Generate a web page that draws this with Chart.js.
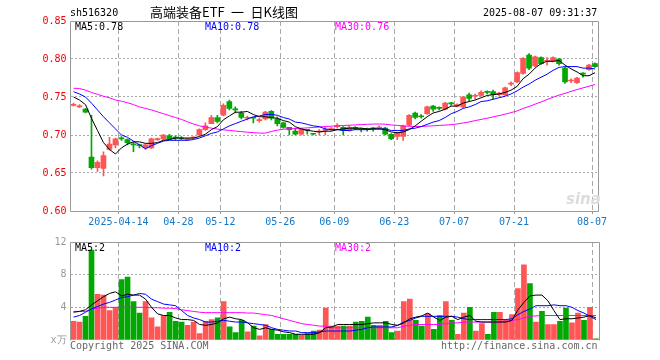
<!DOCTYPE html>
<html>
<head>
<meta charset="utf-8">
<script src="https://cdn.jsdelivr.net/npm/chart.js@4.4.1/dist/chart.umd.min.js"></script>
<style>
  body { margin: 0; background: #fff; }
  #wrap { position: relative; width: 660px; height: 360px; overflow: hidden; font-family: "DejaVu Sans Mono", monospace; font-size: 10px; }
  canvas { position: absolute; left: 0; }
  .t { position: absolute; white-space: nowrap; line-height: 10px; }
</style>
</head>
<body>
<div id="wrap">
  <canvas id="kline" width="660" height="232" style="top:0"></canvas>
  <canvas id="vol" width="660" height="128" style="top:232px"></canvas>

  <div class="t" style="left:70px;top:8px;color:#000">sh516320</div>
  <div class="t" style="left:150px;top:5px;font-family:'Noto Sans CJK SC';font-size:13px;line-height:13px;color:#000">高端装备ETF&ensp;一&ensp;日K线图</div>
  <div class="t" style="left:483px;top:8px;color:#000">2025-08-07 09:31:37</div>

  <div class="t" style="left:75px;top:22px;color:#000">MA5:0.78</div>
  <div class="t" style="left:205px;top:22px;color:#00f">MA10:0.78</div>
  <div class="t" style="left:335px;top:22px;color:#f0f">MA30:0.76</div>

  <div class="t" style="left:75px;top:243px;color:#000">MA5:2</div>
  <div class="t" style="left:205px;top:243px;color:#00f">MA10:2</div>
  <div class="t" style="left:335px;top:243px;color:#f0f">MA30:2</div>

  <div class="t" style="left:566px;top:192px;font-family:'DejaVu Sans';font-weight:bold;font-style:italic;font-size:15px;line-height:15px;color:#dcdcdc">sina</div>

  <div class="t" style="left:70px;top:341px;color:#666">Copyright 2025 SINA.COM</div>
  <div class="t" style="left:441px;top:341px;color:#666">http://finance.sina.com.cn</div>
</div>

<script>
// trading days shown on the chart
const dates = [
  '04-01','04-02','04-03','04-07','04-08','04-09','04-10','04-11',
  '04-14','04-15','04-16','04-17','04-18','04-21','04-22','04-23','04-24','04-25',
  '04-28','04-29','04-30','05-06','05-07','05-08','05-09',
  '05-12','05-13','05-14','05-15','05-16','05-19','05-20','05-21','05-22','05-23',
  '05-26','05-27','05-28','05-29','05-30','06-03','06-04','06-05','06-06',
  '06-09','06-10','06-11','06-12','06-13','06-16','06-17','06-18','06-19','06-20',
  '06-23','06-24','06-25','06-26','06-27','06-30','07-01','07-02','07-03','07-04',
  '07-07','07-08','07-09','07-10','07-11','07-14','07-15','07-16','07-17','07-18',
  '07-21','07-22','07-23','07-24','07-25','07-28','07-29','07-30','07-31','08-01',
  '08-04','08-05','08-06','08-07'
];

// x-axis labels
const tickDates  = ['04-14', '04-28', '05-12', '05-26', '06-09', '06-23', '07-07', '07-21', '08-07'];
const tickLabels = ['2025-04-14', '04-28', '05-12', '05-26', '06-09', '06-23', '07-07', '07-21', '08-07'];

const priceTicks = [0.60, 0.65, 0.70, 0.75, 0.80, 0.85];
const volTicks = [0, 4, 8, 12];

const opens = [
  0.739,0.737,0.734,0.671,0.657,0.656,0.681,0.687,0.696,0.694,
  0.688,0.687,0.683,0.683,0.694,0.695,0.699,0.697,0.696,0.694,
  0.696,0.700,0.707,0.715,0.723,0.726,0.744,0.734,0.729,0.722,
  0.723,0.719,0.721,0.731,0.721,0.716,0.710,0.705,0.701,0.707,
  0.702,0.704,0.706,0.707,0.711,0.710,0.706,0.710,0.708,0.708,
  0.709,0.709,0.709,0.701,0.698,0.698,0.713,0.729,0.725,0.728,
  0.738,0.736,0.734,0.742,0.738,0.737,0.753,0.751,0.752,0.757,
  0.757,0.753,0.753,0.767,0.770,0.781,0.805,0.791,0.802,0.797,
  0.797,0.800,0.788,0.771,0.769,0.781,0.786,0.794
];
const highs = [
  0.742,0.740,0.735,0.726,0.666,0.678,0.697,0.696,0.698,0.695,
  0.691,0.688,0.688,0.696,0.696,0.701,0.701,0.699,0.698,0.696,
  0.698,0.708,0.716,0.726,0.726,0.741,0.746,0.737,0.731,0.725,
  0.723,0.722,0.731,0.732,0.724,0.717,0.710,0.709,0.709,0.707,
  0.702,0.707,0.710,0.710,0.715,0.711,0.712,0.711,0.709,0.709,
  0.710,0.712,0.710,0.702,0.704,0.713,0.727,0.730,0.727,0.738,
  0.739,0.737,0.743,0.743,0.741,0.751,0.755,0.754,0.758,0.758,
  0.759,0.756,0.763,0.770,0.783,0.802,0.807,0.804,0.803,0.802,
  0.803,0.801,0.789,0.774,0.776,0.782,0.793,0.795
];
const lows = [
  0.738,0.736,0.729,0.655,0.652,0.646,0.680,0.683,0.693,0.687,
  0.678,0.683,0.681,0.682,0.693,0.694,0.694,0.693,0.694,0.693,
  0.695,0.699,0.706,0.715,0.716,0.725,0.733,0.729,0.721,0.720,
  0.716,0.717,0.720,0.720,0.712,0.709,0.700,0.700,0.700,0.701,
  0.700,0.700,0.700,0.706,0.709,0.700,0.705,0.707,0.704,0.705,
  0.705,0.708,0.700,0.694,0.694,0.693,0.712,0.721,0.722,0.727,
  0.731,0.733,0.733,0.739,0.737,0.736,0.745,0.747,0.751,0.754,
  0.747,0.751,0.752,0.765,0.769,0.780,0.786,0.790,0.793,0.792,
  0.796,0.792,0.768,0.769,0.768,0.776,0.785,0.789
];
const closes = [
  0.740,0.738,0.730,0.657,0.664,0.673,0.688,0.695,0.695,0.690,
  0.687,0.686,0.687,0.695,0.695,0.700,0.695,0.696,0.695,0.695,
  0.697,0.707,0.712,0.723,0.718,0.739,0.735,0.733,0.723,0.723,
  0.722,0.720,0.730,0.722,0.715,0.710,0.707,0.701,0.708,0.706,
  0.701,0.705,0.707,0.708,0.712,0.706,0.710,0.708,0.707,0.707,
  0.708,0.710,0.701,0.695,0.703,0.712,0.726,0.723,0.724,0.737,
  0.734,0.735,0.742,0.741,0.740,0.750,0.748,0.752,0.756,0.756,
  0.753,0.755,0.762,0.768,0.782,0.801,0.788,0.803,0.794,0.798,
  0.802,0.794,0.770,0.772,0.775,0.780,0.792,0.790
];

// moving averages as drawn on the price panel
const ma5 = [
  0.750,0.746,0.740,0.722,0.706,0.690,0.681,0.675,0.683,0.688,
  0.691,0.691,0.689,0.689,0.690,0.693,0.694,0.696,0.696,0.696,
  0.696,0.698,0.701,0.707,0.711,0.720,0.725,0.730,0.730,0.731,
  0.727,0.724,0.724,0.723,0.722,0.719,0.717,0.711,0.708,0.706,
  0.705,0.704,0.705,0.705,0.707,0.708,0.709,0.709,0.709,0.708,
  0.708,0.708,0.707,0.704,0.703,0.704,0.707,0.712,0.718,0.724,
  0.729,0.731,0.734,0.738,0.738,0.742,0.744,0.746,0.749,0.752,
  0.753,0.754,0.756,0.759,0.764,0.774,0.780,0.788,0.794,0.797,
  0.797,0.798,0.792,0.787,0.783,0.778,0.778,0.782
];
const ma10 = [
  0.757,0.754,0.750,0.742,0.733,0.724,0.716,0.708,0.700,0.697,
  0.692,0.687,0.682,0.686,0.689,0.692,0.693,0.693,0.693,0.693,
  0.694,0.696,0.699,0.702,0.704,0.708,0.712,0.715,0.718,0.721,
  0.724,0.725,0.727,0.727,0.726,0.723,0.721,0.717,0.716,0.714,
  0.712,0.711,0.708,0.707,0.707,0.706,0.706,0.707,0.707,0.707,
  0.708,0.708,0.708,0.706,0.706,0.706,0.708,0.709,0.711,0.714,
  0.717,0.719,0.723,0.728,0.731,0.735,0.737,0.740,0.744,0.745,
  0.747,0.749,0.751,0.754,0.758,0.763,0.767,0.772,0.776,0.780,
  0.785,0.789,0.790,0.790,0.790,0.788,0.788,0.787
];
const ma30 = [
  0.7615,0.7612,0.759,0.756,0.7535,0.751,0.749,0.746,0.7445,0.7425,
  0.740,0.737,0.735,0.733,0.7305,0.728,0.7255,0.723,0.7205,0.7175,
  0.7145,0.712,0.7105,0.709,0.7078,0.7068,0.706,0.7052,0.7045,0.7037,
  0.7031,0.7025,0.7025,0.7047,0.7064,0.7076,0.7082,0.7084,0.7089,0.7094,
  0.7099,0.7105,0.7112,0.7116,0.7122,0.7124,0.7129,0.7133,0.7137,0.7141,
  0.7144,0.7145,0.7142,0.7132,0.7127,0.7118,0.7115,0.7112,0.7112,0.7117,
  0.7121,0.7126,0.7130,0.7136,0.7145,0.7158,0.7172,0.7189,0.7205,0.7221,
  0.7239,0.7255,0.7274,0.7294,0.7317,0.7349,0.7375,0.7406,0.7435,0.7466,
  0.7497,0.7525,0.7548,0.7574,0.7598,0.7620,0.7642,0.7665
];

// volume (x 10k)
const volumes = [
  2.3,2.2,2.9,11.0,5.6,5.5,3.6,4.0,7.4,7.7,
  4.7,3.3,4.7,2.7,1.6,3.0,3.4,2.3,2.2,1.8,
  2.2,0.8,2.3,2.5,2.7,4.7,1.6,0.9,2.4,1.0,
  1.7,0.5,1.9,1.3,0.7,0.7,0.7,0.7,0.6,0.8,
  1.1,1.2,3.9,1.7,1.7,1.7,1.7,2.2,2.3,2.8,
  1.8,1.8,2.3,0.9,1.1,4.7,5.0,2.4,1.7,3.2,
  1.3,3.0,4.7,2.4,0.7,3.3,4.0,1.1,2.0,0.7,
  3.4,3.4,2.4,3.1,6.3,9.2,6.9,2.2,3.5,1.9,
  1.9,2.3,3.9,2.1,3.3,2.4,4.0,0.15
];
const volMa5 = [
  3.4,3.5,3.7,4.3,4.8,5.3,5.7,5.9,5.4,5.6,
  5.5,5.5,5.0,4.0,3.2,3.0,3.0,2.7,2.5,2.5,
  2.4,1.9,1.8,1.9,2.1,2.6,2.8,2.6,2.5,2.1,
  1.5,1.3,1.5,1.3,1.2,1.0,0.9,0.7,0.7,0.7,
  0.7,0.9,1.5,1.6,1.9,1.9,1.9,1.9,1.9,2.0,
  2.1,2.1,2.1,1.9,1.8,2.1,2.6,2.8,2.95,3.3,
  2.8,2.4,2.8,2.9,2.5,2.8,3.0,2.3,2.2,2.2,
  2.2,2.2,2.2,2.4,3.7,4.6,5.4,5.5,5.5,4.8,
  3.6,2.5,2.6,2.6,2.7,2.8,3.0,2.7
];
const volMa10 = [
  2.8,3.0,3.4,3.8,4.1,4.4,4.6,4.9,5.2,5.3,
  5.5,5.7,5.6,5.0,4.7,4.4,4.3,4.2,3.6,3.0,
  2.7,2.5,2.2,2.2,2.3,2.4,2.3,2.2,2.2,2.1,
  2.0,1.9,1.8,1.5,1.3,1.2,1.1,1.1,0.9,0.9,
  0.9,1.0,1.1,1.1,1.1,1.1,1.1,1.2,1.3,1.5,
  1.6,1.6,1.6,1.6,1.8,2.2,2.4,2.7,2.9,2.9,
  2.9,2.9,2.9,2.9,2.8,2.6,2.5,2.5,2.5,2.5,
  2.5,2.5,2.5,2.6,3.1,3.5,3.8,4.2,4.2,4.2,
  4.3,4.2,4.2,4.0,3.6,3.3,2.9,2.5
];
const volMa30 = [
  3.5,3.5,3.5,3.8,3.9,4.0,4.0,4.0,4.0,4.0,
  4.0,4.0,4.0,3.95,3.95,3.9,3.9,3.85,3.7,3.6,
  3.5,3.4,3.35,3.35,3.35,3.35,3.35,3.35,3.35,3.3,
  3.3,3.2,3.1,3.0,2.8,2.6,2.4,2.2,2.0,1.9,
  1.8,1.7,1.7,1.5,1.5,1.5,1.5,1.5,1.5,1.5,
  1.5,1.5,1.5,1.5,1.5,1.7,1.8,1.9,1.9,1.9,
  1.9,1.9,2.0,2.1,2.1,2.2,2.2,2.2,2.2,2.2,
  2.2,2.2,2.3,2.4,2.5,2.7,2.9,2.95,3.0,3.0,
  3.0,3.0,3.0,3.0,3.0,3.0,3.0,3.0
];

const UP = '#ff5555';
const DOWN = '#00a800';
const GRID = '#aaaaaa';
const FRAME = '#999999';
const NONE = 'rgba(0,0,0,0)';

Chart.defaults.font.family = '"DejaVu Sans Mono", monospace';
Chart.defaults.font.size = 10;
Chart.defaults.animation = false;

const candleColors = closes.map((c, i) => c >= opens[i] ? UP : DOWN);
const isTickDate = i => i !== undefined && tickDates.includes(dates[i]);

// frame around the plot area, sides chosen per chart
const framePlugin = {
  id: 'frame',
  afterDraw(chart, args, opts) {
    const { ctx, chartArea: a } = chart;
    const l = Math.floor(a.left) + 0.5, r = Math.floor(a.right) + 0.5;
    const t = Math.floor(a.top) + 0.5, b = Math.floor(a.bottom) + 0.5;
    ctx.save();
    ctx.strokeStyle = FRAME;
    ctx.lineWidth = 1;
    ctx.beginPath();
    ctx.moveTo(l, b); ctx.lineTo(l, t); ctx.lineTo(r, t); ctx.lineTo(r, b);
    if (opts.bottom) ctx.lineTo(l, b);
    ctx.stroke();
    ctx.restore();
  }
};

function xAxis(withLabels) {
  return {
    type: 'category',
    offset: true,
    grid: {
      offset: true,
      color: c => isTickDate(c.index) ? GRID : NONE,
      tickColor: c => isTickDate(c.index) ? FRAME : NONE,
      tickLength: 3,
      drawTicks: withLabels
    },
    border: { display: false, dash: [5, 3] },
    ticks: {
      display: withLabels,
      autoSkip: false,
      minRotation: 0,
      maxRotation: 0,
      padding: 2,
      labelOffset: -3,
      color: '#1478c8',
      callback: (v, i) => {
        const k = tickDates.indexOf(dates[i]);
        return k >= 0 ? tickLabels[k] : '';
      }
    },
    afterFit: s => { s.height = withLabels ? 21 : 0; }
  };
}

function maLine(data, color) {
  return {
    type: 'line', data, borderColor: color, borderWidth: 1,
    pointRadius: 0, tension: 0, fill: false, order: 0
  };
}

new Chart(document.getElementById('kline'), {
  type: 'bar',
  data: {
    labels: dates,
    datasets: [
      maLine(ma5, '#000000'),
      maLine(ma10, '#0000ff'),
      maLine(ma30, '#ff00ff'),
      {
        data: opens.map((o, i) => [o, closes[i]]),
        backgroundColor: candleColors, borderWidth: 0,
        barThickness: 5, minBarLength: 1, grouped: false, order: 1
      },
      {
        data: lows.map((l, i) => [l, highs[i]]),
        backgroundColor: candleColors, borderWidth: 0,
        barThickness: 1, grouped: false, order: 2
      }
    ]
  },
  options: {
    responsive: false,
    devicePixelRatio: 1,
    layout: { padding: { top: 21, right: 62, left: 0, bottom: 0 } },
    plugins: { legend: { display: false }, tooltip: { enabled: false }, frame: { bottom: true } },
    scales: {
      x: xAxis(true),
      y: {
        min: priceTicks[0],
        max: priceTicks[priceTicks.length - 1],
        afterBuildTicks: s => { s.ticks = priceTicks.map(v => ({ value: v })); },
        afterFit: s => { s.width = 70.5; },
        ticks: { color: '#ee0000', padding: 4, callback: v => v.toFixed(2) },
        grid: {
          drawTicks: false,
          color: c => (c.tick && c.tick.value > 0.601 && c.tick.value < 0.849) ? GRID : NONE
        },
        border: { display: false, dash: [2, 2] }
      }
    }
  },
  plugins: [framePlugin]
});

new Chart(document.getElementById('vol'), {
  type: 'bar',
  data: {
    labels: dates,
    datasets: [
      maLine(volMa5, '#000000'),
      maLine(volMa10, '#0000ff'),
      maLine(volMa30, '#ff00ff'),
      {
        data: volumes,
        backgroundColor: candleColors, borderWidth: 0,
        barThickness: 5, grouped: false, order: 1
      }
    ]
  },
  options: {
    responsive: false,
    devicePixelRatio: 1,
    layout: { padding: { top: 9, right: 61, left: 0, bottom: 20 } },
    plugins: { legend: { display: false }, tooltip: { enabled: false }, frame: { bottom: false } },
    scales: {
      x: xAxis(false),
      y: {
        min: volTicks[0],
        max: volTicks[volTicks.length - 1],
        afterBuildTicks: s => { s.ticks = volTicks.map(v => ({ value: v })); },
        afterFit: s => { s.width = 70.5; },
        ticks: { color: '#999999', padding: 4, callback: v => v === 0 ? 'x万' : String(v) },
        grid: {
          drawTicks: false,
          color: c => (c.tick && c.tick.value > 0 && c.tick.value < 12) ? GRID : NONE
        },
        border: { display: false, dash: [2, 2] }
      }
    }
  },
  plugins: [framePlugin]
});
</script>
</body>
</html>
